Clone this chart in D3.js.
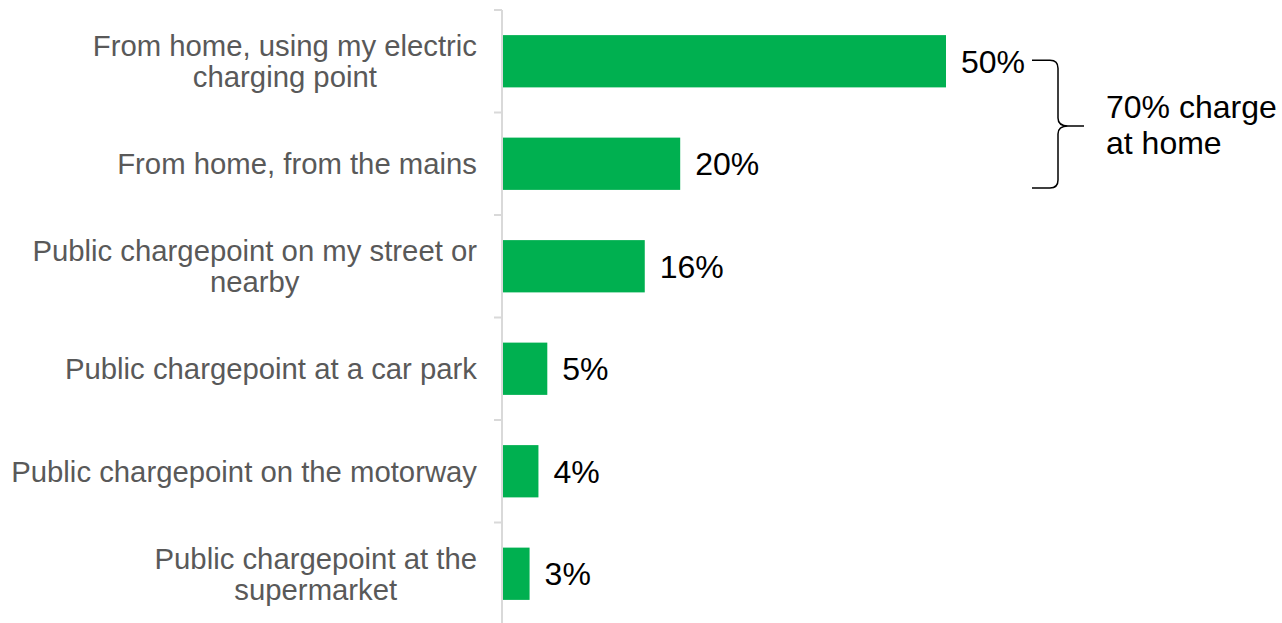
<!DOCTYPE html>
<html>
<head>
<meta charset="utf-8">
<script src="https://cdn.jsdelivr.net/npm/d3@7"></script>
<style>
  html, body { margin: 0; padding: 0; background: #ffffff; }
  svg { display: block; font-family: "Liberation Sans", Arial, sans-serif; }
</style>
</head>
<body>
<svg id="chart" width="1282" height="623"></svg>
<script>
// Where EV owners charge their cars (share of respondents)
const categories = [
  "From home, using my electric charging point",
  "From home, from the mains",
  "Public chargepoint on my street or nearby",
  "Public chargepoint at a car park",
  "Public chargepoint on the motorway",
  "Public chargepoint at the supermarket"
];
// Wrapped label lines for each category
const labelLines = [
  ["From home, using my electric", "charging point"],
  ["From home, from the mains"],
  ["Public chargepoint on my street or", "nearby"],
  ["Public chargepoint at a car park"],
  ["Public chargepoint on the motorway"],
  ["Public chargepoint at the", "supermarket"]
];
const values = [50, 20, 16, 5, 4, 3];
const braceLines = ["70% charge", "at home"];

const svg = d3.select("#chart");
const axisX = 502;
const labelRight = 477;

const y = d3.scaleBand()
  .domain(categories)
  .range([10, 625])
  .paddingInner(0.49)
  .paddingOuter(0.245);

const x = d3.scaleLinear()
  .domain([0, 50])
  .range([axisX + 1, 946]);

const step = y.step();
const bandTop = c => y(c) - y.paddingOuter() * step;

// Category axis line and boundary ticks
svg.append("line")
  .attr("x1", axisX).attr("x2", axisX)
  .attr("y1", 10).attr("y2", 623)
  .attr("stroke", "#d9d9d9").attr("stroke-width", 2);

const tickYs = categories.map(bandTop);
svg.selectAll("line.tick")
  .data(tickYs)
  .join("line")
  .attr("class", "tick")
  .attr("x1", axisX - 8).attr("x2", axisX)
  .attr("y1", d => d).attr("y2", d => d)
  .attr("stroke", "#d9d9d9").attr("stroke-width", 2);

// Bars
svg.selectAll("rect.bar")
  .data(categories)
  .join("rect")
  .attr("class", "bar")
  .attr("x", x(0))
  .attr("y", d => y(d))
  .attr("width", (d, i) => x(values[i]) - x(0))
  .attr("height", y.bandwidth())
  .attr("fill", "#00b050");

// Value labels
svg.selectAll("text.value")
  .data(categories)
  .join("text")
  .attr("class", "value")
  .attr("x", (d, i) => x(values[i]) + 15)
  .attr("y", d => y(d) + y.bandwidth() / 2)
  .attr("dy", "0.36em")
  .attr("font-size", 32)
  .attr("fill", "#000000")
  .text((d, i) => values[i] + "%");

// Category labels: each block sits against the axis, its lines centred on one another
const lineH = 31;
const labels = svg.selectAll("text.cat")
  .data(categories)
  .join("text")
  .attr("class", "cat")
  .attr("text-anchor", "middle")
  .attr("font-size", 29.3)
  .attr("fill", "#595959");

labels.each(function (d, i) {
  const lines = labelLines[i];
  const cy = y(d) + y.bandwidth() / 2;
  const first = cy - (lines.length - 1) * lineH / 2;
  const spans = d3.select(this).selectAll("tspan")
    .data(lines)
    .join("tspan")
    .attr("y", (l, j) => first + j * lineH)
    .attr("dy", "0.35em")
    .text(l => l);
  const maxW = d3.max(spans.nodes(), n => n.getComputedTextLength());
  spans.attr("x", labelRight - maxW / 2);
});

// Curly brace grouping the two home-charging bars
const bTop = y(categories[0]) + y.bandwidth() / 2 - 1;
const bBot = y(categories[1]) + y.bandwidth() - 2;
const bMid = (bTop + bBot) / 2 + 2;
const bx0 = 1032, bxv = 1058, bxp = 1084, r = 8;
const brace = d3.path();
brace.moveTo(bx0, bTop);
brace.lineTo(bxv - r, bTop);
brace.quadraticCurveTo(bxv, bTop, bxv, bTop + r);
brace.lineTo(bxv, bMid - r);
brace.quadraticCurveTo(bxv, bMid, bxp - 16, bMid);
brace.lineTo(bxp, bMid);
brace.moveTo(bxp - 16, bMid);
brace.quadraticCurveTo(bxv, bMid, bxv, bMid + r);
brace.lineTo(bxv, bBot - r);
brace.quadraticCurveTo(bxv, bBot, bxv - r, bBot);
brace.lineTo(bx0, bBot);
svg.append("path")
  .attr("d", brace.toString())
  .attr("fill", "none")
  .attr("stroke", "#000000")
  .attr("stroke-width", 1.5);

svg.append("text")
  .attr("font-size", 32)
  .attr("fill", "#000000")
  .selectAll("tspan")
  .data(braceLines)
  .join("tspan")
  .attr("x", 1106)
  .attr("y", (d, i) => 118 + i * 36)
  .text(d => d);
</script>
</body>
</html>
